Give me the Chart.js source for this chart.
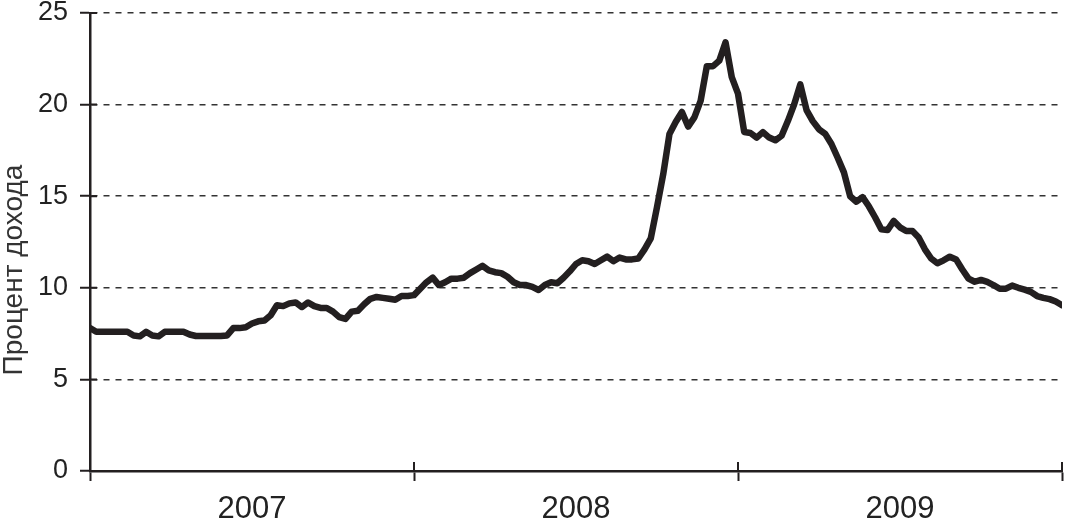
<!DOCTYPE html>
<html>
<head>
<meta charset="utf-8">
<script src="https://cdn.jsdelivr.net/npm/chart.js@4.4.1/dist/chart.umd.min.js"></script>
<style>
	html, body { margin: 0; padding: 0; background: #fff; }
	#wrap { width: 1066px; height: 522px; }
</style>
</head>
<body>
<div id="wrap"><canvas id="yieldChart" width="1066" height="522"></canvas></div>
<script>
// 데이터: 주 단위 수익률 (2007 ~ 2009)
const yearLabels = ['2007', '2008', '2009'];
const weeksPerYear = 52;
const yTicks = [0, 5, 10, 15, 20, 25];
const yTitle = 'Процент дохода';

const yieldPct = [
	7.8, 7.6, 7.6, 7.6, 7.6, 7.6, 7.6, 7.4, 7.35, 7.6,
	7.4, 7.35, 7.6, 7.6, 7.6, 7.6, 7.45, 7.37, 7.37, 7.37,
	7.37, 7.37, 7.4, 7.8, 7.8, 7.85, 8.05, 8.17, 8.22, 8.5,
	9.05, 9.0, 9.15, 9.2, 8.95, 9.2, 9.0, 8.9, 8.9, 8.7,
	8.4, 8.3, 8.7, 8.75, 9.1, 9.4, 9.5, 9.45, 9.4, 9.35,
	9.55, 9.55, 9.6, 9.95, 10.3, 10.55, 10.15, 10.3, 10.5, 10.5,
	10.55, 10.8, 11.0, 11.2, 10.95, 10.85, 10.8, 10.6, 10.3, 10.15,
	10.15, 10.05, 9.88, 10.15, 10.3, 10.25, 10.55, 10.9, 11.3, 11.5,
	11.45, 11.3, 11.5, 11.7, 11.45, 11.65, 11.55, 11.55, 11.6, 12.1,
	12.7, 14.4, 16.2, 18.4, 19.05, 19.6, 18.8, 19.3, 20.2, 22.1,
	22.1, 22.4, 23.4, 21.5, 20.6, 18.5, 18.45, 18.2, 18.5, 18.2,
	18.05, 18.3, 19.1, 20.0, 21.1, 19.7, 19.1, 18.65, 18.4, 17.85,
	17.1, 16.3, 15.0, 14.7, 14.95, 14.45, 13.85, 13.2, 13.15, 13.65,
	13.3, 13.1, 13.1, 12.75, 12.1, 11.6, 11.34, 11.5, 11.7, 11.55,
	11.0, 10.5, 10.33, 10.43, 10.32, 10.15, 9.95, 9.95, 10.12, 10.0,
	9.9, 9.78, 9.55, 9.45, 9.38, 9.25, 9.05
];

const ink = '#231f20';
const totalWeeks = yearLabels.length * weeksPerYear;

// 축 안쪽으로 튀어나온 눈금 + 세로 축 제목
const extrasPlugin = {
	id: 'extras',
	afterDraw(chart) {
		const ctx = chart.ctx;
		const area = chart.chartArea;
		const xs = chart.scales.x;
		const ys = chart.scales.y;
		ctx.save();
		ctx.strokeStyle = ink;
		ctx.lineWidth = 2;
		ctx.beginPath();
		yTicks.forEach(v => {
			const py = ys.getPixelForValue(v);
			ctx.moveTo(area.left, py);
			ctx.lineTo(area.left + 7, py);
		});
		for (let i = 0; i <= yearLabels.length; i++) {
			const px = xs.getPixelForValue(i * weeksPerYear);
			ctx.moveTo(px, area.bottom);
			ctx.lineTo(px, area.bottom - 9);
		}
		ctx.stroke();

		ctx.fillStyle = '#333';
		ctx.font = '28px "Liberation Sans", Arial, sans-serif';
		ctx.textAlign = 'center';
		ctx.textBaseline = 'alphabetic';
		ctx.translate(22, 270);
		ctx.rotate(-Math.PI / 2);
		ctx.fillText(yTitle, 0, 0);
		ctx.restore();
	}
};

new Chart(document.getElementById('yieldChart'), {
	type: 'line',
	data: {
		datasets: [{
			data: yieldPct.map((v, i) => ({ x: i, y: v })),
			borderColor: ink,
			borderWidth: 6.5,
			borderJoinStyle: 'round',
			borderCapStyle: 'round',
			pointRadius: 0,
			tension: 0,
			fill: false
		}]
	},
	options: {
		responsive: false,
		animation: false,
		layout: { padding: { left: 0, right: 4, top: 13, bottom: 0 } },
		plugins: {
			legend: { display: false },
			tooltip: { enabled: false }
		},
		scales: {
			x: {
				type: 'linear',
				min: 0,
				max: totalWeeks,
				afterBuildTicks: scale => {
					const t = [];
					for (let i = 0; i <= yearLabels.length * 2; i++) t.push({ value: i * weeksPerYear / 2 });
					scale.ticks = t;
				},
				afterFit: scale => {
					scale.height = 51;
					scale.paddingLeft = 0;
					scale.paddingRight = 0;
				},
				ticks: {
					autoSkip: false,
					maxRotation: 0,
					padding: 10,
					color: '#222',
					font: { family: '"Liberation Sans", Arial, sans-serif', size: 31 },
					callback: v => (v % weeksPerYear === weeksPerYear / 2) ? yearLabels[Math.floor(v / weeksPerYear)] : ''
				},
				grid: {
					drawOnChartArea: false,
					drawTicks: true,
					tickLength: 10,
					tickWidth: 2,
					tickColor: c => (c.tick && c.tick.value % weeksPerYear === 0) ? ink : 'rgba(0,0,0,0)'
				},
				border: { display: true, color: ink, width: 2.5 }
			},
			y: {
				min: 0,
				max: 25,
				afterBuildTicks: scale => { scale.ticks = yTicks.map(v => ({ value: v })); },
				afterFit: scale => {
					scale.width = 90;
					scale.paddingTop = 0;
					scale.paddingBottom = 0;
				},
				ticks: {
					padding: 12,
					color: '#222',
					font: { family: '"Liberation Sans", Arial, sans-serif', size: 27 }
				},
				grid: {
					color: c => (c.tick && c.tick.value === 0) ? 'rgba(0,0,0,0)' : '#333',
					lineWidth: 1.5,
					tickLength: 10,
					tickWidth: 2,
					tickColor: ink
				},
				border: { display: true, color: ink, width: 2.5, dash: [6, 6] }
			}
		}
	},
	plugins: [extrasPlugin]
});
</script>
</body>
</html>
